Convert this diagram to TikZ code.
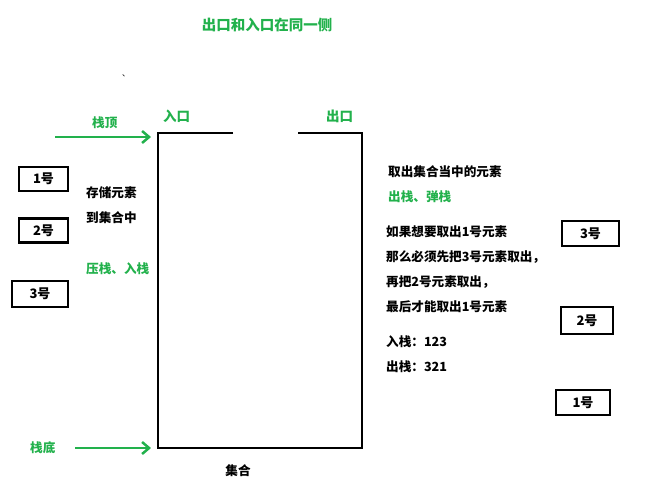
\documentclass[tikz,border=0pt]{standalone}
\usepackage{fontspec}
\usetikzlibrary{arrows.meta}
\setmainfont{Noto Sans CJK SC}
\definecolor{grn}{RGB}{34,177,76}
\begin{document}
\begin{tikzpicture}[x=1pt,y=-1pt,
  txt/.style={anchor=west,font=\fontsize{12.6}{14}\selectfont\bfseries,inner sep=0pt},
  gtxt/.style={txt,text=grn},
  box/.style={draw,line width=2.5pt,minimum width=48pt,minimum height=24pt,font=\fontsize{13}{15}\selectfont\bfseries,inner sep=0pt},
  wall/.style={line width=2.5pt},
  garr/.style={grn,line width=2.5pt,-{Straight Barb[length=7pt,width=12pt]}}]
\useasboundingbox (0,0) rectangle (660,503);
\node[gtxt,anchor=center,font=\fontsize{14.5}{16}\selectfont\bfseries] (title) at (267,25) {出口和入口在同一侧};
\node[txt,anchor=center,font=\fontsize{8}{9}\selectfont] (mark) at (126,76) {、};
\node[gtxt] (top) at (92,123) {栈顶};
\coordinate (ta) at (55,137); \coordinate (tb) at (151,137);
\draw[garr] (ta) -- (tb);
\node[gtxt,font=\fontsize{13.5}{15}\selectfont\bfseries] (in) at (163,116) {入口};
\node[gtxt,font=\fontsize{13.5}{15}\selectfont\bfseries] (out) at (326,116) {出口};
\coordinate (a) at (233,133); \coordinate (b) at (158,133); \coordinate (c) at (158,448);
\coordinate (d) at (362,448); \coordinate (e) at (362,133); \coordinate (f) at (298,133);
\draw[wall] (a) -- (b) -- (c) -- (d) -- (e) -- (f);
\node[box,minimum width=49pt] (l1) at (43.5,179) {1号};
\node[box,minimum width=49pt] (l2) at (43.5,230.5) {2号};
\node[box,minimum width=56pt,minimum height=26pt] (l3) at (40,294) {3号};
\node[txt] (s1) at (86,193) {存储元素};
\node[txt] (s2) at (86,218) {到集合中};
\node[gtxt] (push) at (86,269) {压栈、入栈};
\node[txt] (r1) at (388,172) {取出集合当中的元素};
\node[gtxt] (pop) at (388,197) {出栈、弹栈};
\node[txt] (r2) at (386,232) {如果想要取出1号元素};
\node[txt] (r3) at (386,257) {那么必须先把3号元素取出，};
\node[txt] (r4) at (386,282) {再把2号元素取出，};
\node[txt] (r5) at (386,307) {最后才能取出1号元素};
\node[txt] (r6) at (386,342) {入栈：123};
\node[txt] (r7) at (386,367) {出栈：321};
\node[box,minimum width=57pt,minimum height=25pt] (q3) at (590.5,233.5) {3号};
\node[box,minimum width=52pt,minimum height=27pt] (q2) at (587,320.5) {2号};
\node[box,minimum width=54pt,minimum height=25pt] (q1) at (583,402.5) {1号};
\node[gtxt] (bot) at (30,448) {栈底};
\coordinate (ba) at (75,448); \coordinate (bb) at (151,448);
\draw[garr] (ba) -- (bb);
\node[txt,anchor=center] (set) at (238,471) {集合};
\end{tikzpicture}
\end{document}
